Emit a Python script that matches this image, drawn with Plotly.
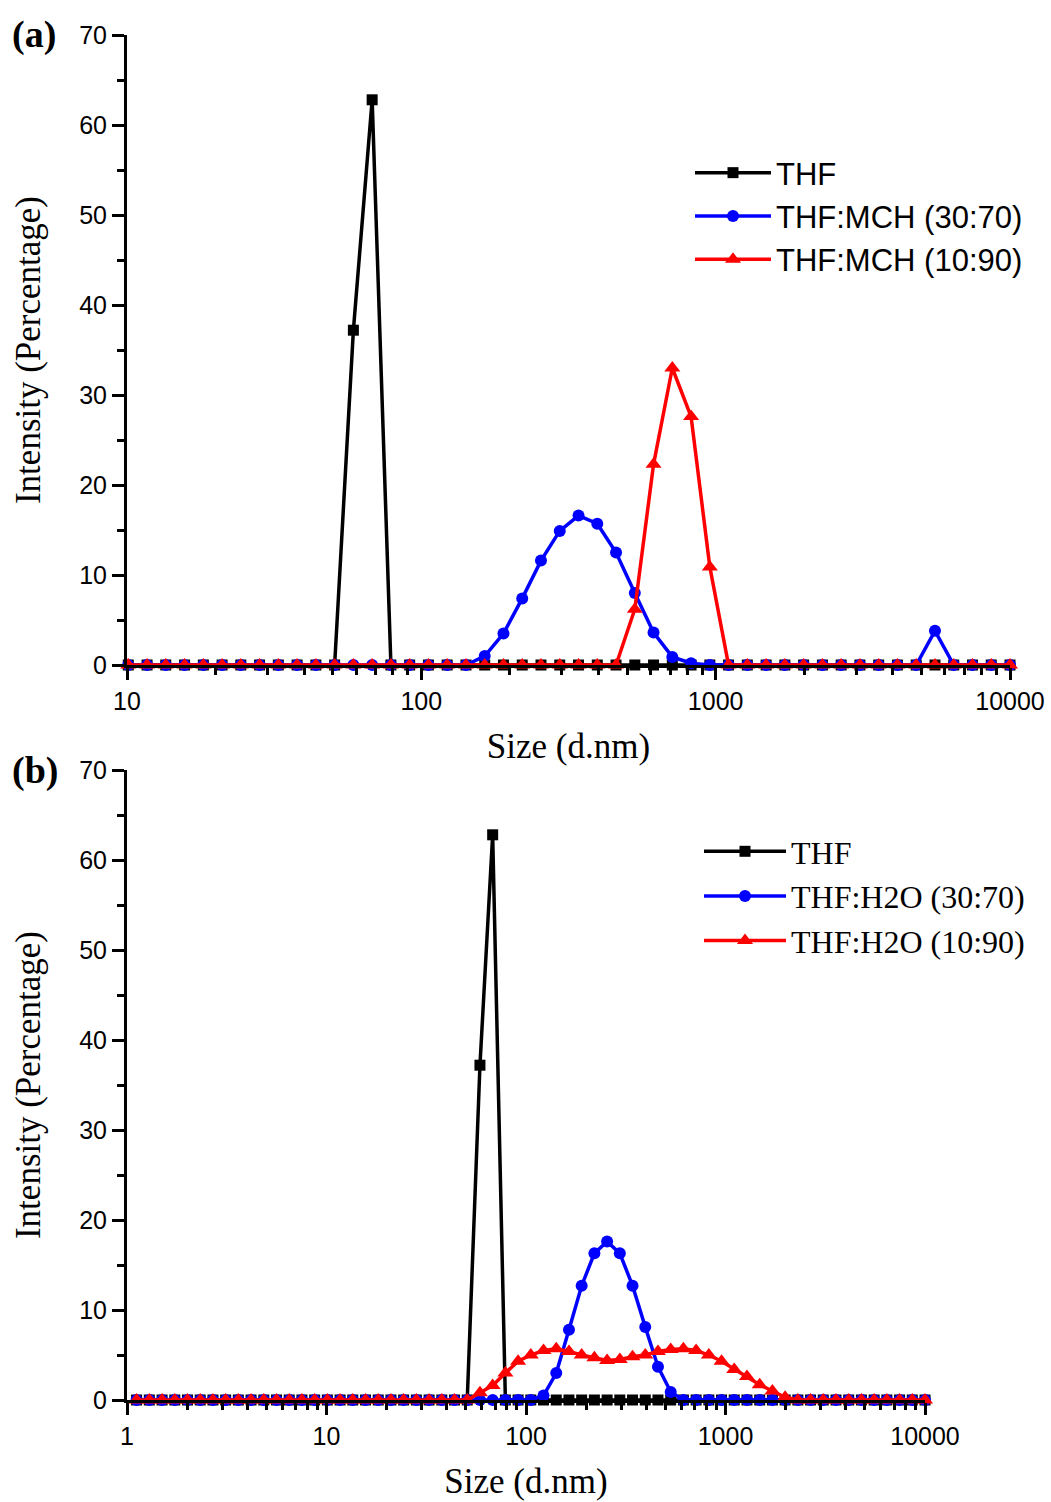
import plotly.graph_objects as go

# Size bins (d.nm)
sizes = [1.117, 1.294, 1.499, 1.736, 2.010, 2.328, 2.696, 3.122, 3.615, 4.187,
         4.849, 5.615, 6.503, 7.531, 8.721, 10.10, 11.70, 13.54, 15.69, 18.17,
         21.04, 24.36, 28.21, 32.67, 37.84, 43.82, 50.75, 58.77, 68.06, 78.82,
         91.28, 105.7, 122.4, 141.8, 164.2, 190.1, 220.2, 255.0, 295.3, 342.0,
         396.1, 458.7, 531.2, 615.1, 712.4, 825.0, 955.4, 1106, 1281, 1484,
         1718, 1990, 2305, 2669, 3091, 3580, 4145, 4801, 5560, 6439,
         7456, 8635, 10000]

thf = [0] * 27 + [37.2, 62.8] + [0] * 34
mch_30_70 = ([0] * 34 + [1.0, 3.5, 7.4, 11.6, 14.9, 16.6, 15.7, 12.5, 8.0, 3.6, 0.9, 0.2]
             + [0] * 12 + [3.8] + [0] * 4)
mch_10_90 = [0] * 42 + [6.2, 22.3, 33.0, 27.6, 10.9] + [0] * 16
h2o_30_70 = [0] * 32 + [0.5, 3.0, 7.8, 12.7, 16.3, 17.6, 16.3, 12.7, 8.1, 3.7, 0.9] + [0] * 20
h2o_10_90 = ([0] * 27 + [0.8, 1.6, 3.0, 4.3, 5.0, 5.5, 5.7, 5.4, 5.0, 4.7, 4.4, 4.5, 4.8,
                         5.0, 5.4, 5.6, 5.7, 5.5, 5.0, 4.3, 3.4, 2.6, 1.7, 1.0, 0.3]
             + [0] * 11)

xticks_a = [10, 100, 1000, 10000]
xticks_b = [1, 10, 100, 1000, 10000]
yticks = [0, 10, 20, 30, 40, 50, 60, 70]

W, H = 1051, 1502
ARIAL = "Arial, Liberation Sans, sans-serif"
TIMES = "Times New Roman, Liberation Serif, serif"


def px_x(v):
    return v / W


def px_y(v):
    return 1 - v / H


def subset(xs, ys, lo):
    pairs = [(x, y) for x, y in zip(xs, ys) if x >= lo]
    return [p[0] for p in pairs], [p[1] for p in pairs]


fig = go.Figure()

styles = [
    ("black", "square", 11),
    ("#0000FF", "circle", 12),
    ("#FF0000", "triangle-up", 14),
]

panel_a = [("THF", thf), ("THF:MCH (30:70)", mch_30_70), ("THF:MCH (10:90)", mch_10_90)]
panel_b = [("THF", thf), ("THF:H2O (30:70)", h2o_30_70), ("THF:H2O (10:90)", h2o_10_90)]

for (name, vals), (col, sym, ms) in zip(panel_a, styles):
    xs, ys = subset(sizes, vals, 10)
    fig.add_trace(go.Scatter(x=xs, y=ys, name=name, mode="lines+markers",
                             line=dict(color=col, width=3.5),
                             marker=dict(color=col, symbol=sym, size=ms),
                             cliponaxis=False, xaxis="x", yaxis="y", legend="legend"))

for (name, vals), (col, sym, ms) in zip(panel_b, styles):
    xs, ys = subset(sizes, vals, 1)
    fig.add_trace(go.Scatter(x=xs, y=ys, name=name, mode="lines+markers",
                             line=dict(color=col, width=3.5),
                             marker=dict(color=col, symbol=sym, size=ms),
                             cliponaxis=False, xaxis="x2", yaxis="y2", legend="legend2"))


def minor_log(lo_exp, hi_exp):
    vals = []
    for e in range(lo_exp, hi_exp):
        for m in range(2, 10):
            vals.append(m * 10 ** e)
    return vals


def xaxis_cfg(domain, rng, ticks, minor_vals, anchor):
    return dict(type="log", range=rng, domain=domain, anchor=anchor,
                showline=True, linecolor="black", linewidth=3,
                ticks="outside", ticklen=12, tickwidth=3, tickcolor="black",
                tickmode="array", tickvals=ticks, ticktext=[str(t) for t in ticks],
                minor=dict(tickmode="array", tickvals=minor_vals, ticks="outside",
                           ticklen=7, tickwidth=2.5, tickcolor="black", showgrid=False),
                tickfont=dict(family=ARIAL, size=25, color="black"),
                showgrid=False, zeroline=False, automargin=False,
                title=dict(text="Size (d.nm)", font=dict(family=TIMES, size=35, color="black"),
                           standoff=20))


def yaxis_cfg(domain, anchor):
    return dict(range=[0, 70], domain=domain, anchor=anchor,
                showline=True, linecolor="black", linewidth=3,
                ticks="outside", ticklen=12, tickwidth=3, tickcolor="black",
                tickmode="array", tickvals=yticks, ticktext=[str(t) for t in yticks],
                minor=dict(tickmode="array", tickvals=[5, 15, 25, 35, 45, 55, 65],
                           ticks="outside", ticklen=7, tickwidth=2.5, tickcolor="black",
                           showgrid=False),
                tickfont=dict(family=ARIAL, size=25, color="black"),
                showgrid=False, zeroline=False, automargin=False,
                title=dict(text="Intensity (Percentage)",
                           font=dict(family=TIMES, size=35, color="black"), standoff=28))


fig.update_layout(
    width=W, height=H, autosize=False,
    margin=dict(l=0, r=0, t=0, b=0, autoexpand=False),
    paper_bgcolor="white", plot_bgcolor="white",
    xaxis=xaxis_cfg([px_x(127), px_x(1010)], [1, 4], xticks_a, minor_log(1, 4), "y"),
    yaxis=yaxis_cfg([px_y(665), px_y(35)], "x"),
    xaxis2=xaxis_cfg([px_x(127), px_x(925)], [0, 4], xticks_b, minor_log(0, 4), "y2"),
    yaxis2=yaxis_cfg([px_y(1400), px_y(770)], "x2"),
    legend=dict(x=px_x(690), y=px_y(146), xanchor="left", yanchor="top",
                bgcolor="rgba(0,0,0,0)", borderwidth=0, itemwidth=76,
                font=dict(family=ARIAL, size=31, color="black")),
    legend2=dict(x=px_x(699), y=px_y(824), xanchor="left", yanchor="top",
                 bgcolor="rgba(0,0,0,0)", borderwidth=0, itemwidth=82,
                 font=dict(family=TIMES, size=32, color="black")),
    showlegend=True,
    annotations=[
        dict(text="<b>(a)</b>", x=px_x(10), y=px_y(35), xref="paper", yref="paper",
             xanchor="left", yanchor="middle", showarrow=False,
             font=dict(family=TIMES, size=38, color="black")),
        dict(text="<b>(b)</b>", x=px_x(10), y=px_y(770), xref="paper", yref="paper",
             xanchor="left", yanchor="middle", showarrow=False,
             font=dict(family=TIMES, size=38, color="black")),
    ],
)

fig.write_html("out.html", config={"displayModeBar": False},
               post_script="document.body.style.margin='0';")
